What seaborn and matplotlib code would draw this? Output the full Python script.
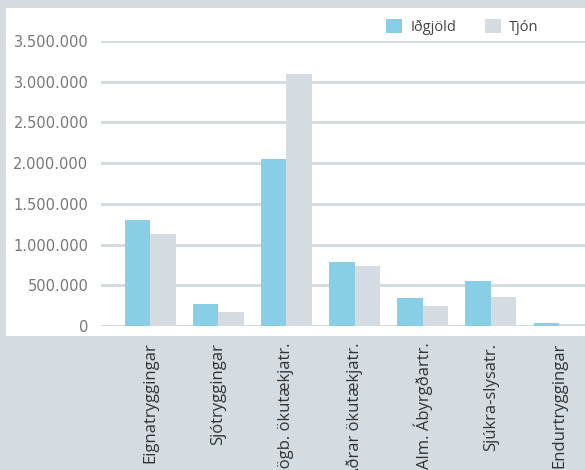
import matplotlib
matplotlib.use("Agg")
import matplotlib.pyplot as plt
import seaborn as sns
import pandas as pd
from matplotlib.patches import Rectangle, Patch
from matplotlib.ticker import FuncFormatter

categories = ["Eignatryggingar", "Sjótryggingar", "Lögb. ökutækjatr.", "Aðrar ökutækjatr.",
              "Alm. Ábyrgðartr.", "Sjúkra-slysatr.", "Endurtryggingar"]
idgjold = [1300000, 270000, 2050000, 785000, 345000, 555000, 37000]
tjon = [1130000, 172000, 3100000, 737000, 246000, 356000, 30000]
series = ["Iðgjöld", "Tjón"]
yticks = [0, 500000, 1000000, 1500000, 2000000, 2500000, 3000000, 3500000]

df = pd.DataFrame({
    "cat": categories * 2,
    "val": idgjold + tjon,
    "series": [series[0]] * len(categories) + [series[1]] * len(categories),
})

BLUE = "#87cee6"
GRAY = "#d4dbe1"

sns.set_theme(style="white")
W, H = 585, 470
fig = plt.figure(figsize=(W / 100, H / 100), dpi=100)
fig.patch.set_facecolor(GRAY)
fig.patches.append(Rectangle((6 / W, 1 - 336 / H), (W - 6) / W, (336 - 8) / H,
                             transform=fig.transFigure, facecolor="white",
                             edgecolor="none", zorder=-5))

ax = fig.add_axes([101 / W, 1 - 326 / H, (W - 101) / W, (326 - 41) / H])
ax.set_zorder(2)
ax.set_facecolor("none")
sns.barplot(data=df, x="cat", y="val", hue="series", palette=[BLUE, GRAY],
            width=0.75, gap=0, ax=ax, saturation=1, legend=False, zorder=3,
            linewidth=0, edgecolor="none")

ax.set_ylim(0, 3500000)
ax.set_xlim(-0.72, 6.38)
ax.set_yticks(yticks)
ax.yaxis.set_major_formatter(FuncFormatter(lambda v, p: f"{int(v):,}".replace(",", ".")))
ax.grid(axis="y", color=GRAY, linewidth=2.2, zorder=1)
ax.set_axisbelow(True)
for s in ax.spines.values():
    s.set_visible(False)
ax.set_xlabel("")
ax.set_ylabel("")
ax.tick_params(axis="y", length=0, pad=9, labelsize=10.5, labelcolor="#777777")
ax.tick_params(axis="x", length=0, pad=12)
for lab in ax.get_xticklabels():
    lab.set_rotation(90)
    lab.set_fontsize(12)
    lab.set_color("#333333")
    lab.set_family("Open Sans")
    lab.set_va("top")
    lab.set_ha("center")

handles = [Patch(facecolor=BLUE, edgecolor="none"), Patch(facecolor=GRAY, edgecolor="none")]
leg = fig.legend(handles, series, loc="upper left", bbox_to_anchor=(373 / W, 1 - 6 / H),
                 ncol=2, frameon=False, handlelength=1.1, handleheight=1.1,
                 columnspacing=1.9, handletextpad=0.6,
                 prop={"family": "Open Sans", "size": 10.5})
for t in leg.get_texts():
    t.set_color("#444444")

fig.savefig("out.png", dpi=100, facecolor=fig.get_facecolor())
